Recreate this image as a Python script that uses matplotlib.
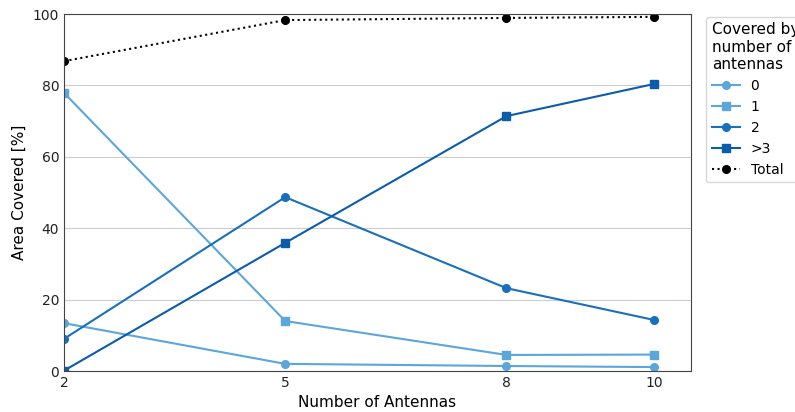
import numpy as np
import matplotlib.pyplot as plt

# antennas on the x axis
n_antennas = [2, 5, 8, 10]

# area covered [%] by number of antennas
cov_0 = [13.4, 2.0, 1.4, 1.1]
cov_1 = [77.9, 14.0, 4.5, 4.6]
cov_2 = [9.0, 48.7, 23.2, 14.3]
cov_3plus = [0.1, 35.9, 71.4, 80.4]
total = [86.8, 98.3, 98.9, 99.2]

light = '#5ba6da'
mid = '#1a6fbd'
dark = '#0b5cad'

fig = plt.figure(figsize=(7.95, 4.12), dpi=100)
ax = fig.add_axes([0.0805, 0.0995, 0.7885, 0.8665])

ax.plot(n_antennas, cov_0, '-o', color=light, ms=5.5, lw=1.5, label='0')
ax.plot(n_antennas, cov_1, '-s', color=light, ms=5.5, lw=1.5, label='1')
ax.plot(n_antennas, cov_2, '-o', color=mid, ms=5.5, lw=1.5, label='2')
ax.plot(n_antennas, cov_3plus, '-s', color=dark, ms=5.5, lw=1.5, label='>3')
ax.plot(n_antennas, total, ':o', color='black', ms=5.5, lw=1.5, label='Total')

ax.set_xlim(2, 10.5)
ax.set_ylim(0, 100)
ax.set_xticks(n_antennas)
ax.set_yticks([0, 20, 40, 60, 80, 100])
ax.tick_params(length=0, labelsize=10, colors='#222222')
ax.yaxis.grid(True, color='#cccccc', lw=0.8)
ax.set_axisbelow(True)
for s in ax.spines.values():
    s.set_color('#444444')

ax.set_xlabel('Number of Antennas', fontsize=11)
ax.set_ylabel('Area Covered [%]', fontsize=11)

# legend sits right of the axes, runs past the figure edge like the original
leg = ax.legend(title='Covered by\nnumber of\nantennas', loc='upper left',
                bbox_to_anchor=(1.02, 1.0), fontsize=10, title_fontsize=11,
                alignment='left', borderaxespad=0.2)

fig.savefig('out.png', dpi=100)
